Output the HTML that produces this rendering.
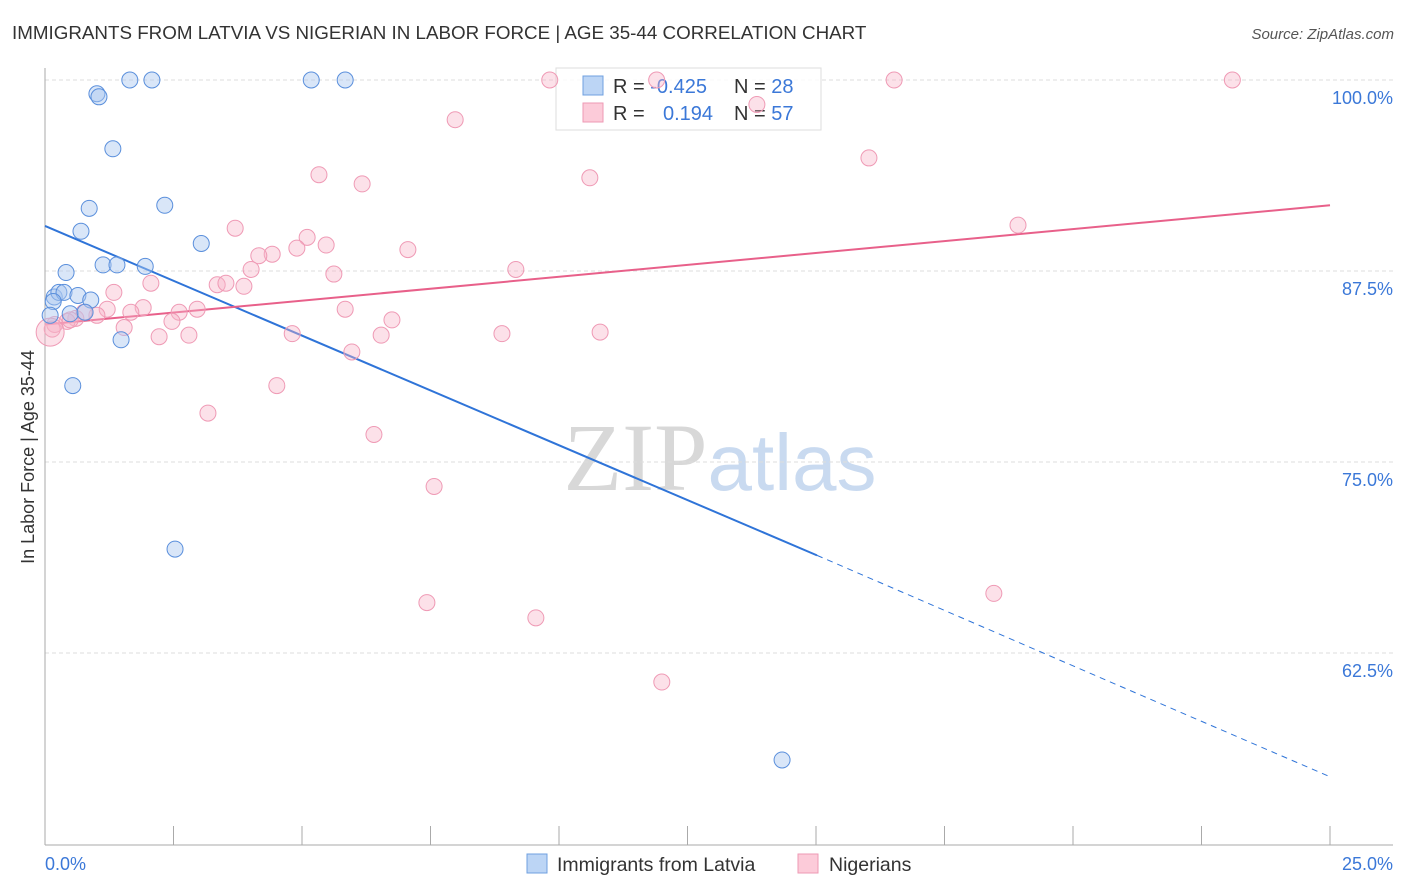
<!DOCTYPE html>
<html><head><meta charset="utf-8"><style>
body{margin:0;background:#fff;font-family:"Liberation Sans",sans-serif}
svg{display:block}
</style></head><body>
<svg width="1406" height="892" id="chart">
<text x="12" y="39" font-size="18.8" fill="#333">IMMIGRANTS FROM LATVIA VS NIGERIAN IN LABOR FORCE | AGE 35-44 CORRELATION CHART</text>
<text x="1394" y="39" font-size="15" fill="#555" font-style="italic" text-anchor="end">Source: ZipAtlas.com</text>
<text x="720" y="490" font-size="96" fill="#ddd" text-anchor="middle" font-family="Liberation Serif,serif"><tspan fill="#d8d8d8">ZIP</tspan><tspan fill="#c9daf0" font-family="Liberation Sans,sans-serif" font-size="80">atlas</tspan></text>
<g id="grid"></g>
<line x1="45" y1="68" x2="45" y2="845" stroke="#aaa"/>
<line x1="45" y1="845" x2="1393" y2="845" stroke="#aaa"/>
<g id="ticks"></g>
<text transform="translate(34,457) rotate(-90)" font-size="18" fill="#333" text-anchor="middle">In Labor Force | Age 35-44</text>
<text x="45" y="870" font-size="18" fill="#3b78d8">0.0%</text>
<text x="1393" y="870" font-size="18" fill="#3b78d8" text-anchor="end">25.0%</text>
<g id="lines"></g>
<g>
<rect x="556" y="68" width="265" height="62" fill="#fff" fill-opacity="0.85" stroke="#ddd"/>
<rect x="583" y="76" width="20" height="19" fill="#bcd5f5" stroke="#6fa0e0"/>
<rect x="583" y="103" width="20" height="19" fill="#fccbd9" stroke="#ee99b4"/>
<text x="613" y="93" font-size="20" fill="#333">R = <tspan fill="#3b78d8">-0.425</tspan><tspan x="734">N = </tspan><tspan fill="#3b78d8">28</tspan></text>
<text x="613" y="120" font-size="20" fill="#333">R = <tspan x="663" fill="#3b78d8">0.194</tspan><tspan x="734">N = </tspan><tspan fill="#3b78d8">57</tspan></text>
</g>
<g id="pts"></g>
<g>
<rect x="527" y="854" width="20" height="19" fill="#bcd5f5" stroke="#6fa0e0"/>
<text x="557" y="871" font-size="19.5" fill="#333">Immigrants from Latvia</text>
<rect x="798" y="854" width="20" height="19" fill="#fccbd9" stroke="#ee99b4"/>
<text x="829" y="871" font-size="19.5" fill="#333">Nigerians</text>
</g>
</svg>
<script>
const yTicks=[100,87.5,75,62.5];
const yTickLabels=["100.0%","87.5%","75.0%","62.5%"];
const latviaX=[1.65,2.08,5.18,5.84,1.01,1.05,1.32,0.86,2.33,0.70,3.04,1.13,1.40,1.95,0.41,0.18,0.27,0.37,0.64,0.89,0.16,0.10,0.49,0.78,1.48,0.54,2.53,14.34];
const latviaY=[100,100,100,100,99.1,98.9,95.5,91.6,91.8,90.1,89.3,87.9,87.9,87.8,87.4,85.8,86.1,86.1,85.9,85.6,85.5,84.6,84.7,84.8,83.0,80.0,69.3,55.5];
const nigerX=[9.82,11.9,16.52,23.1,13.85,7.98,16.03,5.33,6.17,10.6,3.70,18.93,5.10,4.42,4.16,4.90,5.47,7.06,4.01,5.62,9.16,1.34,2.06,3.35,3.52,3.87,1.91,2.96,2.61,1.21,5.84,1.67,1.01,0.60,0.76,0.43,0.19,0.14,1.54,2.47,2.22,2.80,4.81,6.54,6.75,5.97,8.89,10.80,4.51,3.17,6.40,7.57,7.43,9.55,18.46,12.00,0.49];
const nigerY=[100,100,100,100,98.4,97.4,94.9,93.8,93.2,93.6,90.3,90.5,89.7,88.6,88.5,89.0,89.2,88.9,87.6,87.3,87.6,86.1,86.7,86.6,86.7,86.5,85.1,85.0,84.8,85.0,85.0,84.8,84.6,84.4,84.8,84.2,84.0,83.7,83.8,84.2,83.2,83.3,83.4,83.3,84.3,82.2,83.4,83.5,80.0,78.2,76.8,73.4,65.8,64.8,66.4,60.6,84.3];
const latviaTrend=[[0,90.45],[15.02,68.89],[25,54.4]];
const nigerTrend=[[0,84.0],[25,91.8]];
const X=v=>45+v*51.4, Y=v=>80+(100-v)*15.28;
const NS="http://www.w3.org/2000/svg";
function mk(t,a,p){const e=document.createElementNS(NS,t);for(const k in a)e.setAttribute(k,a[k]);document.getElementById(p).appendChild(e);return e;}
yTicks.forEach((t,i)=>{
 const l=mk('line',{x1:45,x2:1393,y1:Y(t),y2:Y(t),stroke:'#ddd','stroke-dasharray':'4,3'},'grid');
 
 
 const tx=mk('text',{x:1393,y:Y(t)+24,'font-size':18,fill:'#3b78d8','text-anchor':'end'},'grid');
 tx.textContent=yTickLabels[i];
 
 
});
for(let i=0;i<=10;i++){
 const l=mk('line',{x1:X(i*2.5),x2:X(i*2.5),y1:826,y2:845,stroke:'#aaa'},'ticks');
 
 
}
nigerX.forEach((x,i)=>{
 const c=mk('circle',{cx:X(x),cy:Y(nigerY[i]),r:8,fill:'rgba(248,180,200,0.4)',stroke:'#ef9ab5','stroke-width':1},'pts');
 
 
});
const big=mk('circle',{cx:X(0.1),cy:Y(83.5),r:14,fill:'rgba(248,180,200,0.4)',stroke:'#ef9ab5'},'pts');


latviaX.forEach((x,i)=>{
 const c=mk('circle',{cx:X(x),cy:Y(latviaY[i]),r:8,fill:'rgba(170,200,240,0.45)',stroke:'#5a8fdc','stroke-width':1},'pts');
 
 
});
const b1=mk('line',{x1:X(latviaTrend[0][0]),y1:Y(latviaTrend[0][1]),x2:X(latviaTrend[1][0]),y2:Y(latviaTrend[1][1]),stroke:'#2f74d8','stroke-width':2},'lines');


const b2=mk('line',{x1:X(latviaTrend[1][0]),y1:Y(latviaTrend[1][1]),x2:X(latviaTrend[2][0]),y2:Y(latviaTrend[2][1]),stroke:'#2f74d8','stroke-width':1,'stroke-dasharray':'6,5'},'lines');


const p1=mk('line',{x1:X(nigerTrend[0][0]),y1:Y(nigerTrend[0][1]),x2:X(nigerTrend[1][0]),y2:Y(nigerTrend[1][1]),stroke:'#e8608a','stroke-width':2},'lines');


</script>
</body></html>
